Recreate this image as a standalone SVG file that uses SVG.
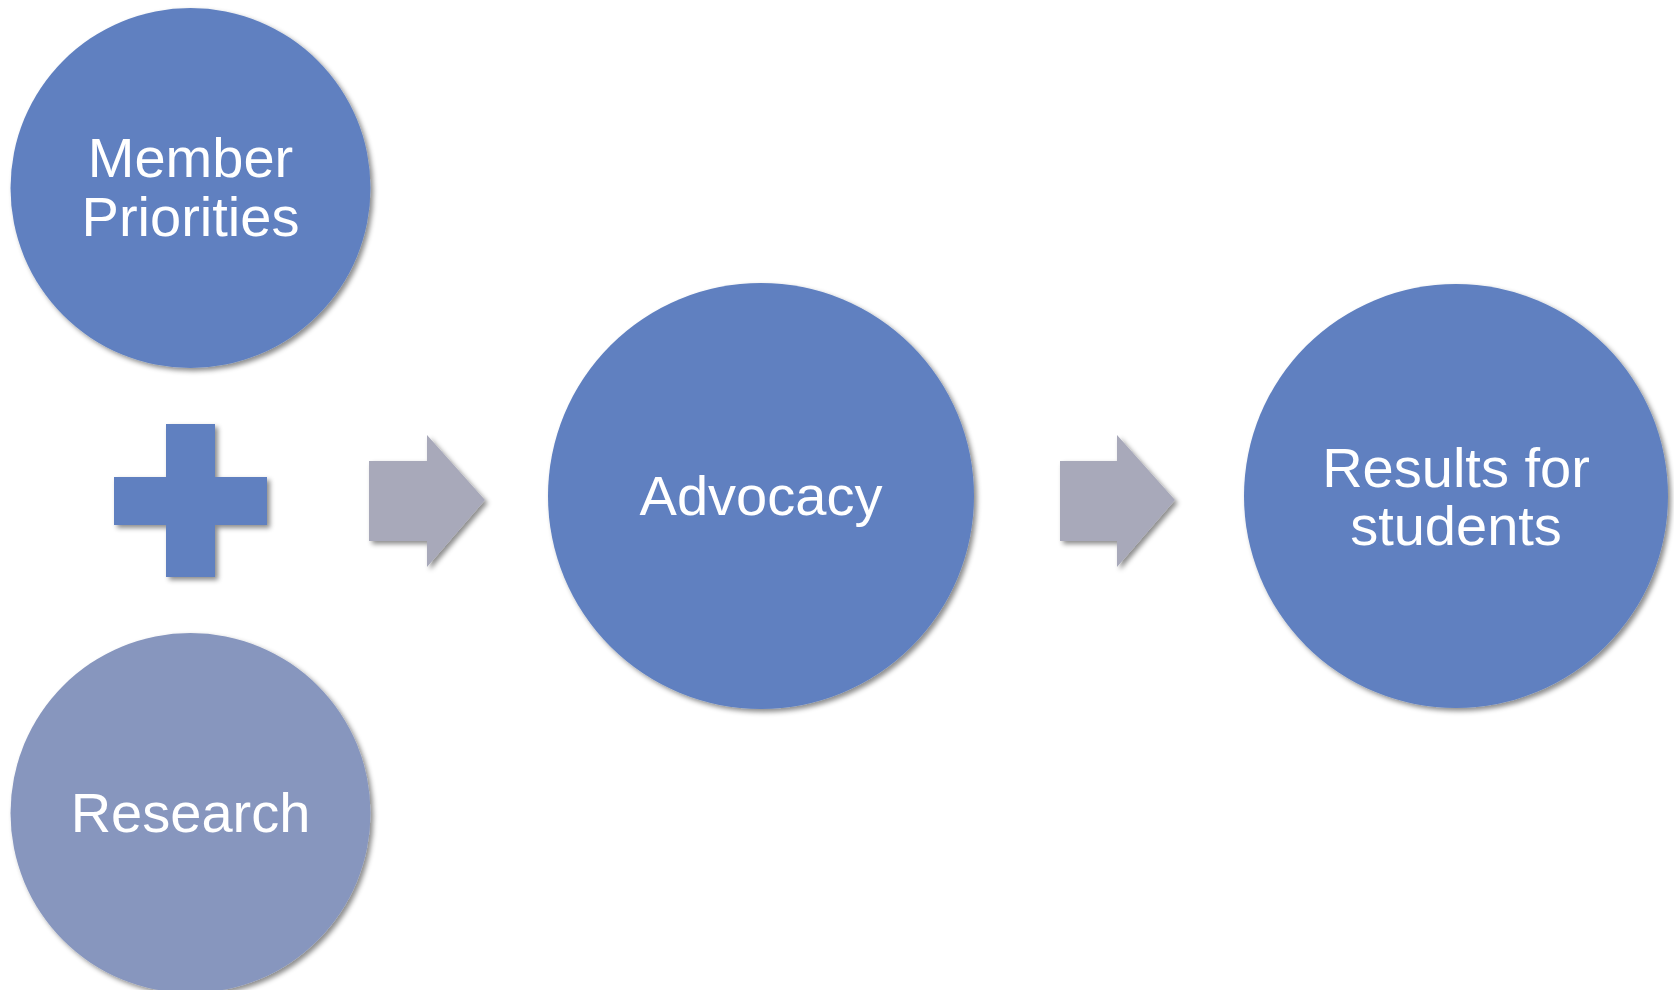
<svg xmlns="http://www.w3.org/2000/svg" width="1674" height="990" viewBox="0 0 1674 990">
  <defs>
    <filter id="sh" x="-10%" y="-10%" width="125%" height="125%">
      <feDropShadow dx="3" dy="3" stdDeviation="2.5" flood-color="#000" flood-opacity="0.45"/>
    </filter>
    <style>
      .node { fill: #6080C0; filter: url(#sh); }
      .node2 { fill: #8796BE; filter: url(#sh); }
      .arrow { fill: #A8A9BA; filter: url(#sh); }
      .lbl { font-family: "Liberation Sans", Arial, sans-serif; font-size: 56px; fill: #FFFFFF; text-anchor: middle; }
    </style>
  </defs>
  <rect width="1674" height="990" fill="#FFFFFF"/>
  <g id="member-priorities">
    <circle class="node" cx="190.5" cy="188" r="180"/>
    <text class="lbl" x="190.5" y="177">Member</text>
    <text class="lbl" x="190.5" y="236">Priorities</text>
  </g>
  <g id="plus">
    <path class="node" d="M166,424 H215 V477 H267 V525 H215 V577 H166 V525 H114 V477 H166 Z"/>
  </g>
  <g id="research">
    <circle class="node2" cx="190.5" cy="813" r="180"/>
    <text class="lbl" x="190.5" y="832">Research</text>
  </g>
  <g id="advocacy">
    <circle class="node" cx="761" cy="496" r="213"/>
    <text class="lbl" x="761" y="515">Advocacy</text>
  </g>
  <g id="results">
    <circle class="node" cx="1456" cy="496" r="212"/>
    <text class="lbl" x="1456" y="487">Results for</text>
    <text class="lbl" x="1456" y="545">students</text>
  </g>
  <g id="connectors">
    <path class="arrow" d="M369,461 H427 V435 L485,500 L427,567 V541 H369 Z"/>
    <path class="arrow" d="M1060,461 H1117 V435 L1175,500 L1117,567 V541 H1060 Z"/>
  </g>
</svg>
